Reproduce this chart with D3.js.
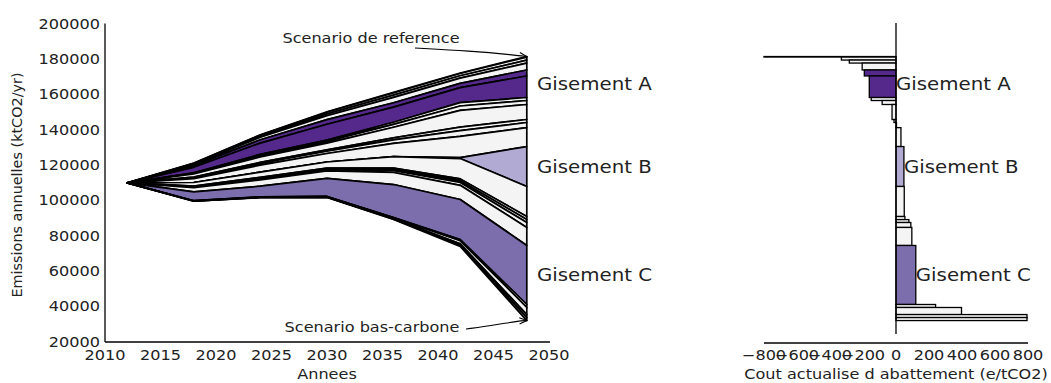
<!DOCTYPE html>
<html><head><meta charset="utf-8">
<script src="https://cdn.jsdelivr.net/npm/d3@7"></script>
<style>body{margin:0;background:#fff} text{font-family:"DejaVu Sans",sans-serif;fill:#222}</style>
</head><body>
<svg id="c" width="1051" height="383"></svg>
<script>
// ---------------- DATA ----------------
const years = [2012, 2018, 2024, 2030, 2036, 2042, 2048];
const reference = [109800, 121000, 137000, 150000, 161000, 172000, 181300];
// measures sorted by abatement cost (top of stack = cheapest)
const measureGisement = ["", "", "", "", "A", "A", "", "", "", "", "", "", "B", "", "", "", "", "", "C", "", "", "", ""];
const measureCost = [-800, -331, -283, -205, -192, -162, -150, -84, -24, -12, 3, 30, 48, 50, 54, 78, 90, 96, 120, 240, 397, 794, 794];
const measureAbatement = [
  [0, 100, 150, 200, 250, 300, 300],
  [0, 350, 650, 1000, 1300, 1300, 1700],
  [0, 300, 600, 1000, 1300, 1300, 1700],
  [0, 750, 1400, 2200, 3000, 3000, 3900],
  [0, 900, 1900, 2600, 2450, 2400, 3400],
  [0, 3100, 6400, 9000, 8600, 8500, 12200],
  [0, 300, 600, 750, 1200, 1900, 1700],
  [0, 400, 800, 1000, 1600, 2500, 2250],
  [0, 1700, 3100, 3800, 6000, 9500, 8500],
  [0, 300, 600, 750, 1200, 1900, 1700],
  [0, 600, 1000, 1300, 2000, 3300, 2900],
  [0, 2200, 3900, 4800, 7450, 12000, 10700],
  [0, 0, 0, 0, 0, 550, 22600],
  [0, 2000, 3000, 3500, 6500, 11500, 17000],
  [0, 250, 400, 450, 700, 1000, 1750],
  [0, 250, 400, 450, 700, 1000, 1650],
  [0, 400, 600, 700, 1100, 1650, 2800],
  [0, 2400, 3600, 4200, 6800, 8000, 10200],
  [0, 5000, 6000, 10200, 18700, 22700, 33400],
  [0, 50, 100, 100, 200, 700, 1700],
  [0, 150, 200, 250, 500, 1700, 4000],
  [0, 50, 100, 125, 200, 750, 1700],
  [0, 50, 100, 125, 200, 750, 1700]
];
const gisements = ["A", "B", "C"];
const xTicksLeft = [2010, 2015, 2020, 2025, 2030, 2035, 2040, 2045, 2050];
const yTicks = [20000, 40000, 60000, 80000, 100000, 120000, 140000, 160000, 180000, 200000];
const xTicksRight = [-800, -600, -400, -200, 0, 200, 400, 600, 800];

// ---------------- DRAW ----------------
const svg = d3.select("#c");
const colors = {"": "#f4f4f4", A: "#55298c", B: "#b1aad3", C: "#7c6eac"};
const x = d3.scaleLinear().domain([2010, 2050]).range([105, 549]);
const y = d3.scaleLinear().domain([20000, 200000]).range([341.5, 23.5]);
const xr = d3.scaleLinear().domain([-800, 800]).range([764, 1028]);
const SX = 1.15;

function label(g, px, py, txt, size, anchor, sx) {
  return g.append("text").attr("transform", `translate(${px},${py}) scale(${sx},1)`)
    .attr("text-anchor", anchor).style("font-size", size + "px").text(txt);
}

// stacking
const stacks = [];
let stackTop = reference.slice();
measureAbatement.forEach((ab, i) => {
  const s = years.map((yr, k) => ({year: yr, y1: stackTop[k], y0: stackTop[k] - ab[k]}));
  stacks.push(s);
  stackTop = s.map(d => d.y0);
});

const area = d3.area().x(d => x(d.year)).y0(d => y(d.y0)).y1(d => y(d.y1));
const gL = svg.append("g");
stacks.forEach((s, i) => {
  gL.append("path").attr("d", area(s)).attr("fill", colors[measureGisement[i]])
    .attr("stroke", "#000").attr("stroke-width", 1.7).attr("stroke-linejoin", "round");
});

// left axes (spines only)
svg.append("line").attr("x1", 105).attr("x2", 105).attr("y1", y(200000)).attr("y2", 342).attr("stroke", "#000").attr("stroke-width", 1.3);
svg.append("line").attr("x1", 105).attr("x2", 550).attr("y1", 342).attr("y2", 342).attr("stroke", "#000").attr("stroke-width", 1.3);
yTicks.forEach(t => label(svg, 100, y(t) + 5, String(t), 14, "end", SX));
xTicksLeft.forEach(t => label(svg, x(t), 360, String(t), 14, "middle", SX));
label(svg, 327, 379, "Annees", 14, "middle", SX);
svg.append("text").attr("transform", "translate(22,185) rotate(-90)").attr("text-anchor", "middle")
  .style("font-size", "14.4px").text("Emissions annuelles (ktCO2/yr)");

// right chart bars (at last year)
const last = years.length - 1;
const gR = svg.append("g");
stacks.forEach((s, i) => {
  const c = measureCost[i];
  gR.append("rect").attr("x", xr(Math.min(0, c))).attr("width", Math.abs(xr(c) - xr(0)))
    .attr("y", y(s[last].y1)).attr("height", y(s[last].y0) - y(s[last].y1))
    .attr("fill", colors[measureGisement[i]]).attr("stroke", "#000").attr("stroke-width", 1.3);
});
svg.append("line").attr("x1", xr(0)).attr("x2", xr(0)).attr("y1", 23).attr("y2", 334).attr("stroke", "#000").attr("stroke-width", 1.3);
svg.append("line").attr("x1", xr(-800)).attr("x2", xr(800)).attr("y1", 343).attr("y2", 343).attr("stroke", "#000").attr("stroke-width", 1.3);
xTicksRight.forEach(t => label(svg, xr(t), 360, (t < 0 ? "\u2212" + (-t) : String(t)), 14, "middle", SX));
label(svg, 896, 379, "Cout actualise d abattement (e/tCO2)", 14, "middle", SX);

// gisement labels
gisements.forEach(gname => {
  const idx = measureGisement.map((m, i) => m === gname ? i : -1).filter(i => i >= 0);
  const ytop = stacks[idx[0]][last].y1, ybot = stacks[idx[idx.length - 1]][last].y0;
  const ym = (y(ytop) + y(ybot)) / 2 + 6;
  label(svg, 537, ym, "Gisement " + gname, 17.5, "start", 1.13);
  const cmax = d3.max(idx, i => measureCost[i]);
  label(svg, xr(Math.max(0, cmax)), ym, "Gisement " + gname, 17.5, "start", 1.13);
});

// annotations
function arrow(pts, tip) {
  const line = d3.line().curve(d3.curveBasis);
  svg.append("path").attr("d", line(pts.concat([tip]))).attr("fill", "none").attr("stroke", "#000").attr("stroke-width", 1.1);
  const p = pts[pts.length - 1];
  const ang = Math.atan2(tip[1] - p[1], tip[0] - p[0]);
  const L = 8, a = 0.4;
  const h = d3.path();
  h.moveTo(tip[0] - L * Math.cos(ang - a), tip[1] - L * Math.sin(ang - a));
  h.lineTo(tip[0], tip[1]);
  h.lineTo(tip[0] - L * Math.cos(ang + a), tip[1] - L * Math.sin(ang + a));
  svg.append("path").attr("d", h.toString()).attr("fill", "none").attr("stroke", "#000").attr("stroke-width", 1.1);
}
label(svg, 371, 43, "Scenario de reference", 14, "middle", SX);
arrow([[415, 48], [470, 51], [515, 55]], [x(2048), y(reference[last])]);
label(svg, 372, 332, "Scenario bas-carbone", 14, "middle", SX);
arrow([[466, 329], [495, 325], [518, 321]], [x(2048), y(stacks[stacks.length - 1][last].y0)]);
</script>
</body></html>
